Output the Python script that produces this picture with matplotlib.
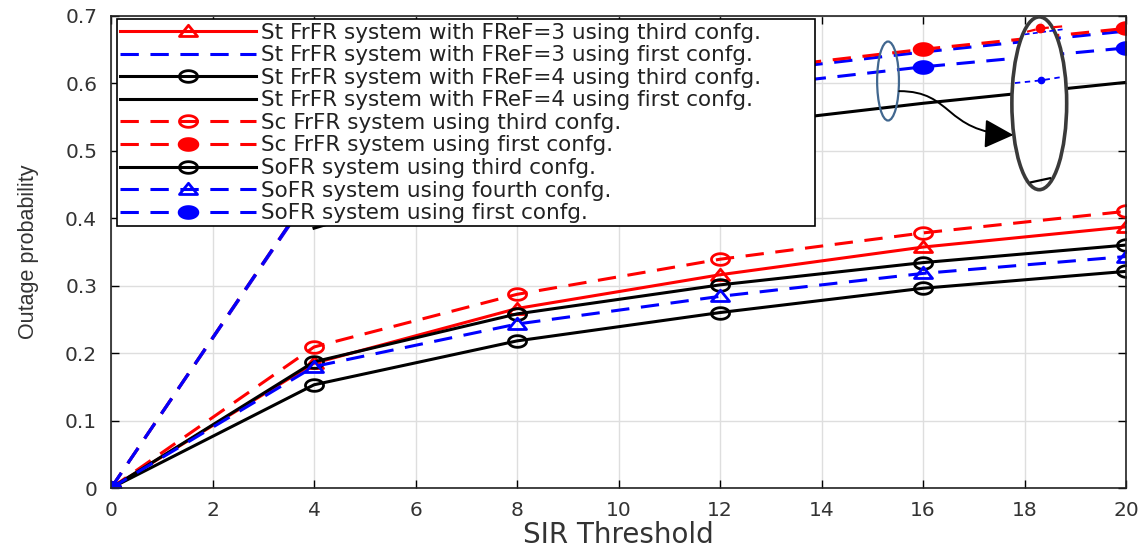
import matplotlib
matplotlib.use("Agg")
import matplotlib.pyplot as plt
import numpy as np
from matplotlib.patches import Ellipse, FancyArrowPatch
from matplotlib.path import Path

plt.rcParams['font.family'] = ['DejaVu Sans']

# ---------------- data ----------------
sir = [0, 4, 8, 12, 16, 20]
sir_st4_first = [4, 8, 12, 16, 20]

st3_third = [0, 0.185, 0.266, 0.316, 0.357, 0.387]
st3_first = [0, 0.443, 0.542, 0.611, 0.646, 0.677]
st4_third = [0, 0.153, 0.218, 0.260, 0.296, 0.321]
st4_first = [0.385, 0.475, 0.535, 0.570, 0.601]
sc_third = [0, 0.209, 0.287, 0.339, 0.378, 0.410]
sc_first = [0, 0.445, 0.545, 0.615, 0.650, 0.681]
sofr_third = [0, 0.187, 0.258, 0.301, 0.334, 0.360]
sofr_fourth = [0, 0.180, 0.243, 0.284, 0.318, 0.343]
sofr_first = [0, 0.445, 0.520, 0.590, 0.624, 0.652]

labels = [
    "St FrFR system with FReF=3 using third confg.",
    "St FrFR system with FReF=3 using first confg.",
    "St FrFR system with FReF=4 using third confg.",
    "St FrFR system with FReF=4 using first confg.",
    "Sc FrFR system using third confg.",
    "Sc FrFR system using first confg.",
    "SoFR system using third confg.",
    "SoFR system using fourth confg.",
    "SoFR system using first confg.",
]

x_ticks = [0, 2, 4, 6, 8, 10, 12, 14, 16, 18, 20]
y_ticks = [0, 0.1, 0.2, 0.3, 0.4, 0.5, 0.6, 0.7]
y_tick_labels = ["0", "0.1", "0.2", "0.3", "0.4", "0.5", "0.6", "0.7"]

# magnified-view annotation (zoom inset drawn inside the big ellipse)
inset_red_x = [18.05, 18.31, 18.76]
inset_red_y = [0.676, 0.681, 0.684]
inset_blue_top_x = [18.0, 18.8]
inset_blue_top_y = [0.672, 0.680]
inset_blue_x = [17.81, 18.33, 18.74]
inset_blue_y = [0.600, 0.604, 0.609]
inset_black_x = [18.13, 18.50]
inset_black_y = [0.453, 0.459]

# ---------------- marker shapes (wide, like the stretched original) ----------------
t = np.linspace(0, 2 * np.pi, 41)
ell_marker = Path(np.column_stack([1.55 * np.cos(t), np.sin(t)]), closed=True)
tri_marker = Path([(-1.45, -0.8), (1.45, -0.8), (0, 1.0), (-1.45, -0.8)], closed=True)

fig = plt.figure(figsize=(11.46, 5.49), dpi=100)
ax = fig.add_axes([0.0969, 0.111, 0.8857, 0.8607])

LW = 2.2
DASH = (6.0, 3.8)

ax.plot(sir, st3_third, color='red', lw=LW, marker=tri_marker, ms=13, mfc='none', mew=2.0, label=labels[0])
ax.plot(sir, st3_first, color='blue', lw=LW, ls='--', dashes=DASH, label=labels[1])
ax.plot(sir, st4_third, color='black', lw=LW, marker=ell_marker, ms=13, mfc='none', mew=2.0, label=labels[2])
ax.plot(sir_st4_first, st4_first, color='black', lw=LW, label=labels[3])
ax.plot(sir, sc_third, color='red', lw=LW, ls='--', dashes=DASH, marker=ell_marker, ms=13, mfc='none', mew=2.0, label=labels[4])
ax.plot(sir, sc_first, color='red', lw=LW, ls='--', dashes=DASH, marker=ell_marker, ms=14, mfc='red', mew=1.5, label=labels[5])
ax.plot(sir, sofr_third, color='black', lw=LW, marker=ell_marker, ms=13, mfc='none', mew=2.0, label=labels[6])
ax.plot(sir, sofr_fourth, color='blue', lw=LW, ls='--', dashes=DASH, marker=tri_marker, ms=13, mfc='none', mew=2.0, label=labels[7])
ax.plot(sir, sofr_first, color='blue', lw=LW, ls='--', dashes=DASH, marker=ell_marker, ms=14, mfc='blue', mew=1.5, label=labels[8])

ax.set_xlim(0, 20)
ax.set_ylim(0, 0.7)
ax.set_xticks(x_ticks)
ax.set_yticks(y_ticks)
ax.set_yticklabels(y_tick_labels)
ax.tick_params(direction='in', length=6, width=1, top=True, right=True, labelsize=14.5, colors='black')
ax.tick_params(axis='y', pad=10)
ax.tick_params(axis='x', pad=9)
for lab in ax.get_xticklabels() + ax.get_yticklabels():
    lab.set_color('#333333')
ax.grid(True, color='#dedede', lw=1.0)
ax.set_axisbelow(True)
for s in ax.spines.values():
    s.set_linewidth(1.2)
    s.set_color('#222222')

ax.set_xlabel("SIR Threshold", fontsize=20, color='#333333', labelpad=1)
ax.set_ylabel("Outage probability", fontsize=15.5, color='#333333', labelpad=19,
              family=['Liberation Sans', 'DejaVu Sans'])

# ---------------- zoom annotation ----------------
small_ell = Ellipse((15.31, 0.603), 0.43, 0.117, fill=False, edgecolor='#41678f', lw=1.6, zorder=6)
ax.add_patch(small_ell)
big_ell = Ellipse((18.29, 0.570), 1.08, 0.256, facecolor='white', edgecolor='#3a3a3a', lw=2.6, zorder=6, clip_on=False)
ax.add_patch(big_ell)
ax.plot([18.32, 18.32], [0.452, 0.69], color='#e4e4e4', lw=1.0, zorder=6.5)
ax.plot(inset_blue_top_x, inset_blue_top_y, color='blue', lw=1.2, ls='--', dashes=(3, 2), zorder=7)
ax.plot(inset_red_x, inset_red_y, color='red', lw=1.6, ls='--', dashes=(4, 2), zorder=7.1)
ax.plot(inset_red_x[1], inset_red_y[1], marker='o', ms=6, color='red', zorder=7.2)
ax.plot(inset_blue_x, inset_blue_y, color='blue', lw=1.3, ls='--', dashes=(3, 2.5), zorder=7)
ax.plot(inset_blue_x[1], inset_blue_y[1], marker='o', ms=4.5, color='blue', zorder=7.2)
ax.plot(inset_black_x, inset_black_y, color='black', lw=1.6, zorder=7)

arrow_path = Path([(15.53, 0.588), (16.6, 0.588), (16.4, 0.528), (17.78, 0.523)],
                  [Path.MOVETO, Path.CURVE4, Path.CURVE4, Path.CURVE4])
arrow = FancyArrowPatch(path=arrow_path, arrowstyle='-|>,head_length=0.9,head_width=0.45',
                        mutation_scale=20, color='black', lw=1.4, zorder=8, transform=ax.transData)
ax.add_patch(arrow)

leg = ax.legend(loc='upper left', bbox_to_anchor=(0.006, 0.992, 0.688, 0), mode='expand',
                borderaxespad=0, fontsize=15.5, handlelength=6.3, handletextpad=0.25,
                labelspacing=0.12, borderpad=0.15, fancybox=False, framealpha=1,
                edgecolor='black')
leg.get_frame().set_linewidth(1.2)
leg.set_zorder(5)
for txt in leg.get_texts():
    txt.set_color('#222222')

fig.savefig("out.png", dpi=100, facecolor='white')
